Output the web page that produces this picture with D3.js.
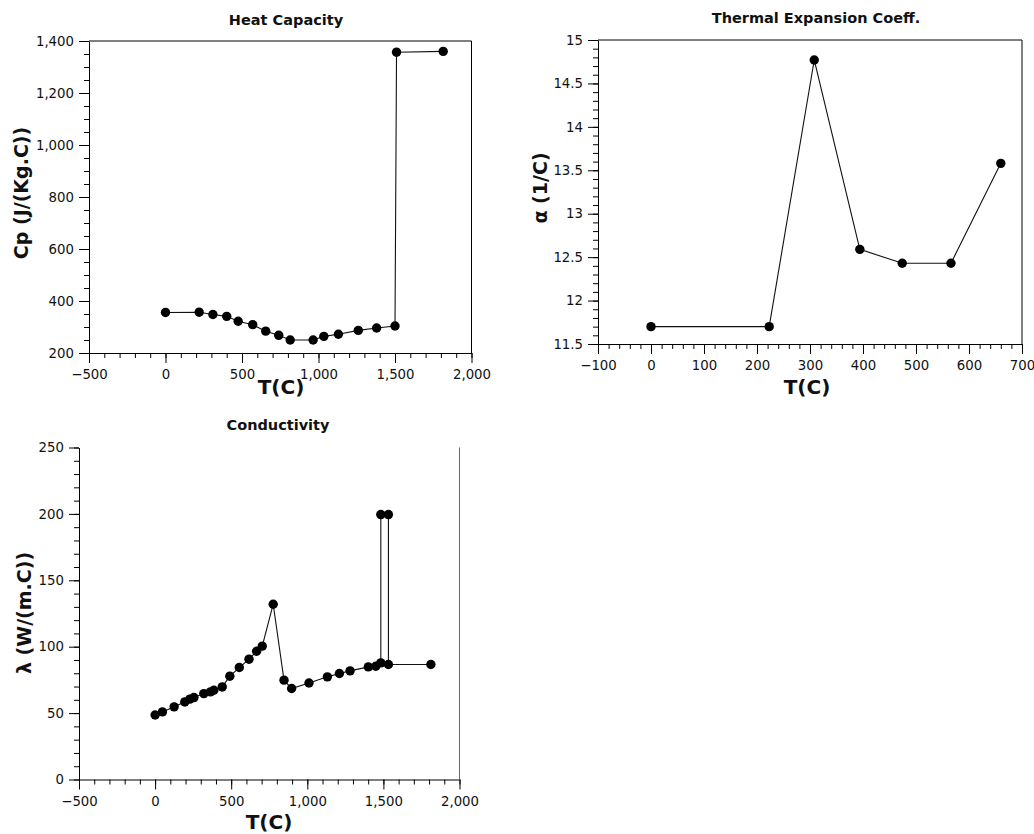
<!DOCTYPE html>
<html lang="en">
<head>
    <meta charset="UTF-8">
    <title>Material properties</title>
    <script src="https://cdn.jsdelivr.net/npm/d3@7"></script>
    <style>
        body { margin: 0; background: #fff; }
        text { font-family: "DejaVu Sans", Verdana, sans-serif; fill: #111; }
    </style>
</head>
<body>
    <script>
        // heat capacity
        var heatT  = [0, 220, 310, 400, 475, 570, 655, 740, 815, 965, 1035, 1130, 1260, 1380, 1500, 1510, 1815];
        var heatCp = [356, 357, 348, 341, 322, 309, 284, 268, 250, 250, 264, 272, 287, 296, 304, 1357, 1360];
        var heatXTicks = [-500, 0, 500, 1000, 1500, 2000];
        var heatYTicks = [200, 400, 600, 800, 1000, 1200, 1400];

        // thermal expansion
        var expT = [0, 223, 308, 394, 474, 566, 660];
        var expA = [11.7, 11.7, 14.77, 12.59, 12.43, 12.43, 13.58];
        var expXTicks = [-100, 0, 100, 200, 300, 400, 500, 600, 700];
        var expYTicks = [11.5, 12, 12.5, 13, 13.5, 14, 14.5, 15];

        // conductivity
        var condT = [0, 48, 125, 195, 228, 255, 320, 364, 386, 441, 491, 553, 617, 667, 704, 776,
                     847, 897, 1011, 1132, 1211, 1281, 1401, 1450, 1483, 1483, 1533, 1533, 1812];
        var condL = [48.6, 50.9, 54.7, 58.4, 60.5, 61.7, 64.7, 66, 67.2, 69.7, 77.8, 84.3, 90.6, 96.6, 100.4, 132,
                     74.8, 68.5, 72.7, 77.3, 79.8, 81.8, 84.8, 85.3, 87.8, 199.5, 199.5, 86.6, 86.6];
        var condXTicks = [-500, 0, 500, 1000, 1500, 2000];
        var condYTicks = [0, 50, 100, 150, 200, 250];

        var svg = d3.select("body").append("svg")
            .attr("width", 1034)
            .attr("height", 834);

        function panel(o) {
            var g = svg.append("g");
            var x = d3.scaleLinear().domain(o.xdom).range([o.left, o.right]);
            var y = d3.scaleLinear().domain(o.ydom).range([o.bottom, o.top]);

            // minor ticks
            var xMinor = d3.range(o.xdom[0], o.xdom[1] + 1e-9, o.xminor);
            var yMinor = d3.range(o.ydom[0], o.ydom[1] + 1e-9, o.yminor);
            g.append("g")
                .attr("transform", "translate(0," + o.bottom + ")")
                .call(d3.axisBottom(x).tickValues(xMinor).tickFormat("").tickSize(5).tickSizeOuter(0))
                .call(function(s){ s.select(".domain").remove(); });
            g.append("g")
                .attr("transform", "translate(" + o.left + ",0)")
                .call(d3.axisLeft(y).tickValues(yMinor).tickFormat("").tickSize(5).tickSizeOuter(0))
                .call(function(s){ s.select(".domain").remove(); });

            // major ticks + labels
            g.append("g")
                .attr("transform", "translate(0," + o.bottom + ")")
                .call(d3.axisBottom(x).tickValues(o.xticks).tickFormat(o.fmt).tickSize(10).tickSizeOuter(0).tickPadding(7));
            g.append("g")
                .attr("transform", "translate(" + o.left + ",0)")
                .call(d3.axisLeft(y).tickValues(o.yticks).tickFormat(o.yfmt || o.fmt).tickSize(10).tickSizeOuter(0).tickPadding(5));
            g.selectAll(".tick text").style("font-size", "13.3px").attr("fill", "#111");
            g.selectAll(".domain, .tick line").attr("stroke", "#000");

            // frame
            if (o.topLine) {
                g.append("line").attr("x1", o.left).attr("x2", o.right).attr("y1", o.top).attr("y2", o.top)
                    .attr("stroke", "#000");
            }
            g.append("line").attr("x1", o.right).attr("x2", o.right).attr("y1", o.top).attr("y2", o.bottom)
                .attr("stroke", o.rightColor || "#000");

            // data
            var pts = o.xs.map(function(d, i){ return [d, o.ys[i]]; });
            g.append("path")
                .attr("d", d3.line().x(function(d){ return x(d[0]); }).y(function(d){ return y(d[1]); })(pts))
                .attr("fill", "none")
                .attr("stroke", "#111")
                .attr("stroke-width", 1.1);
            g.selectAll("circle").data(pts).enter().append("circle")
                .attr("cx", function(d){ return x(d[0]); })
                .attr("cy", function(d){ return y(d[1]); })
                .attr("r", 4.7)
                .attr("fill", "#000");

            // titles
            g.append("text").text(o.title)
                .attr("x", o.titleX).attr("y", o.titleY)
                .attr("text-anchor", "middle")
                .style("font-size", "14.5px").style("font-weight", "bold");
            g.append("text").text("T(C)")
                .attr("x", o.xlabX).attr("y", o.xlabY)
                .attr("text-anchor", "middle")
                .style("font-size", "20px").style("font-weight", "bold");
            g.append("text").text(o.ylab)
                .attr("transform", "translate(" + o.ylabX + "," + o.ylabY + ") rotate(-90)")
                .attr("text-anchor", "middle")
                .attr("dy", "0.35em")
                .style("font-size", "19px").style("font-weight", "bold");
        }

        panel({
            xs: heatT, ys: heatCp,
            xdom: [-500, 2000], ydom: [200, 1400],
            left: 89, right: 471.5, top: 41, bottom: 353,
            xticks: heatXTicks, yticks: heatYTicks, xminor: 100, yminor: 50,
            fmt: d3.format(","),
            topLine: true,
            title: "Heat Capacity", titleX: 286, titleY: 25,
            xlabX: 281, xlabY: 394,
            ylab: "Cp (J/(Kg.C))", ylabX: 21, ylabY: 193
        });

        panel({
            xs: expT, ys: expA,
            xdom: [-100, 700], ydom: [11.5, 15],
            left: 598, right: 1022, top: 40, bottom: 344,
            xticks: expXTicks, yticks: expYTicks, xminor: 20, yminor: 0.1,
            fmt: d3.format("d"), yfmt: function(d){ return String(d); },
            topLine: true,
            title: "Thermal Expansion Coeff.", titleX: 816, titleY: 23,
            xlabX: 807, xlabY: 394,
            ylab: "\u03b1 (1/C)", ylabX: 540, ylabY: 188
        });

        panel({
            xs: condT, ys: condL,
            xdom: [-500, 2000], ydom: [0, 250],
            left: 79, right: 459.5, top: 447.5, bottom: 779.5,
            xticks: condXTicks, yticks: condYTicks, xminor: 100, yminor: 10,
            fmt: d3.format(","),
            topLine: false, rightColor: "#666",
            title: "Conductivity", titleX: 278, titleY: 430,
            xlabX: 269, xlabY: 829,
            ylab: "\u03bb (W/(m.C))", ylabX: 24, ylabY: 613
        });
    </script>
</body>
</html>
